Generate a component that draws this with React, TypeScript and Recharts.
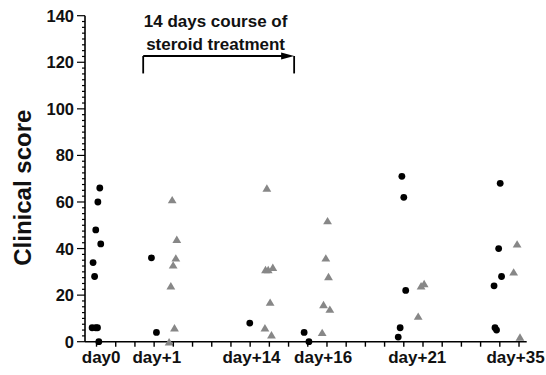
import {
  ScatterChart,
  Scatter,
  XAxis,
  YAxis,
  ReferenceLine,
  ReferenceDot,
} from "recharts"

// black circles (x = jittered position on the day axis, y = clinical score)
const circlePoints = [
  // day0
  [0.77, 6], [0.96, 6], [1.05, 6], [0.82, 34], [0.9, 28],
  [0.96, 48], [1.07, 60], [1.17, 66], [1.22, 42], [1.12, 0],
  // day+1
  [3.86, 36], [4.12, 4],
  // day+14
  [8.98, 8],
  // day+16
  [11.81, 4], [12.06, 0],
  // day+21
  [16.9, 71], [17.0, 62], [17.1, 22], [16.81, 6], [16.71, 2],
  // day+35
  [22.02, 68], [21.94, 40], [22.09, 28], [21.7, 24], [21.75, 6], [21.83, 5],
]

// grey triangles
const trianglePoints = [
  // day+1
  [4.94, 61], [5.18, 44], [5.13, 36], [4.99, 33], [4.87, 24], [5.06, 6], [4.78, 0],
  // day+14
  [9.87, 66], [9.8, 31], [9.94, 31], [10.18, 32], [10.04, 17], [9.77, 6], [10.11, 3],
  // day+16
  [13.03, 52], [12.94, 36], [13.08, 28], [12.82, 16], [13.15, 14], [12.75, 4],
  // day+21
  [17.9, 24], [18.06, 25], [17.75, 11],
  // day+35
  [22.9, 42], [22.72, 30], [23.05, 2],
]

const xLabels = ["day0", "day+1", "day+14", "day+16", "day+21", "day+35"]
const xLabelPositions = [1.24, 4.14, 9.07, 12.8, 17.7, 22.82]
const xTickMarks = Array.from({ length: 23 }, (_, i) => i + 1)

const yMajorTicks = [0, 20, 40, 60, 80, 100, 120, 140]
const yMinorTicks = Array.from({ length: 57 }, (_, i) => i * 2.5)

// steroid course bracket (x positions in axis units, y in score units)
const courseStart = 3.43
const courseEnd = 11.29
const courseTop = 122.7
const courseBottom = 115.2
const courseText = ["14 days course of", "steroid treatment"]

const FONT = "'Liberation Sans', Arial, sans-serif"

const toXY = (pts: number[][]) => pts.map(([x, y]) => ({ x, y }))
const labelMap = new Map(xLabelPositions.map((p, i) => [p, xLabels[i]]))

function Circle(props: any) {
  const { cx, cy } = props
  return <circle cx={cx} cy={cy} r={3.4} fill="#000" />
}

function Triangle(props: any) {
  const { cx, cy } = props
  const w = 4.4
  const h = 3.7
  return (
    <polygon
      points={`${cx},${cy - h} ${cx - w},${cy + h} ${cx + w},${cy + h}`}
      fill="#878787"
    />
  )
}

function XTick(props: any) {
  const { x, y, payload } = props
  const label = labelMap.get(payload.value)
  if (label) {
    return (
      <text x={x} y={y + 21} textAnchor="middle" fontSize={17} fontWeight="bold" fontFamily={FONT} fill="#111">
        {label}
      </text>
    )
  }
  return <line x1={x} x2={x} y1={y} y2={y + 5} stroke="#000" strokeWidth={1.4} />
}

function YTick(props: any) {
  const { x, y, payload } = props
  const major = yMajorTicks.includes(payload.value)
  return (
    <g>
      <line x1={x - (major ? 8 : 3)} x2={x} y1={y} y2={y} stroke="#000" strokeWidth={1.2} />
      {major && (
        <text x={x - 11} y={y} textAnchor="end" dominantBaseline="central" fontSize={16.5} fontWeight="bold" fontFamily={FONT} fill="#111">
          {payload.value}
        </text>
      )}
    </g>
  )
}

function YLabel(props: any) {
  const { viewBox } = props
  const cx = viewBox.x + 22
  const cy = viewBox.y + viewBox.height / 2 + 9
  return (
    <text
      transform={`translate(${cx},${cy}) rotate(-90)`}
      textAnchor="middle"
      dominantBaseline="central"
      fontSize={24}
      fontWeight="bold"
      fontFamily={FONT}
      fill="#111"
    >
      Clinical score
    </text>
  )
}

function ArrowHead(props: any) {
  const { cx, cy } = props
  return <polygon points={`${cx},${cy} ${cx - 13},${cy - 3.5} ${cx - 13},${cy + 3.5}`} fill="#000" />
}

function CourseText(props: any) {
  const { cx, cy } = props
  return (
    <g fontSize={17} fontWeight="bold" fontFamily={FONT} fill="#111" textAnchor="middle">
      <text x={cx} y={cy - 28.5}>{courseText[0]}</text>
      <text x={cx} y={cy - 6}>{courseText[1]}</text>
    </g>
  )
}

export default function App() {
  return (
    <div style={{ position: "absolute", left: 0, top: 0, width: 546, height: 375, background: "#fff" }}>
      <ScatterChart width={546} height={375} margin={{ top: 15.7, right: 19.3, bottom: 0, left: 0 }}>
        <XAxis
          type="number"
          dataKey="x"
          domain={[0.4, 23.4]}
          allowDataOverflow
          ticks={[...xTickMarks, ...xLabelPositions]}
          interval={0}
          tick={<XTick />}
          tickLine={false}
          tickSize={0}
          tickMargin={0}
          height={33.3}
          axisLine={{ stroke: "#000", strokeWidth: 1.6 }}
        />
        <YAxis
          type="number"
          dataKey="y"
          domain={[0, 140]}
          ticks={yMinorTicks}
          interval={0}
          tick={<YTick />}
          tickLine={false}
          tickSize={0}
          tickMargin={0}
          width={85}
          axisLine={{ stroke: "#000", strokeWidth: 1.6 }}
          label={(p: any) => <YLabel {...p} />}
        />
        <ReferenceLine
          segment={[{ x: courseStart, y: courseBottom }, { x: courseStart, y: courseTop }]}
          stroke="#000"
          strokeWidth={1.8}
          ifOverflow="visible"
        />
        <ReferenceLine
          segment={[{ x: courseStart, y: courseTop }, { x: courseEnd - 0.5, y: courseTop }]}
          stroke="#000"
          strokeWidth={1.8}
          ifOverflow="visible"
        />
        <ReferenceLine
          segment={[{ x: courseEnd, y: courseBottom }, { x: courseEnd, y: courseTop }]}
          stroke="#000"
          strokeWidth={1.8}
          ifOverflow="visible"
        />
        <ReferenceDot x={courseEnd} y={courseTop} r={0} shape={<ArrowHead />} ifOverflow="visible" />
        <ReferenceDot x={7.2} y={courseTop} r={0} shape={<CourseText />} ifOverflow="visible" />
        <Scatter data={toXY(circlePoints)} shape={<Circle />} isAnimationActive={false} />
        <Scatter data={toXY(trianglePoints)} shape={<Triangle />} isAnimationActive={false} />
      </ScatterChart>
    </div>
  )
}
